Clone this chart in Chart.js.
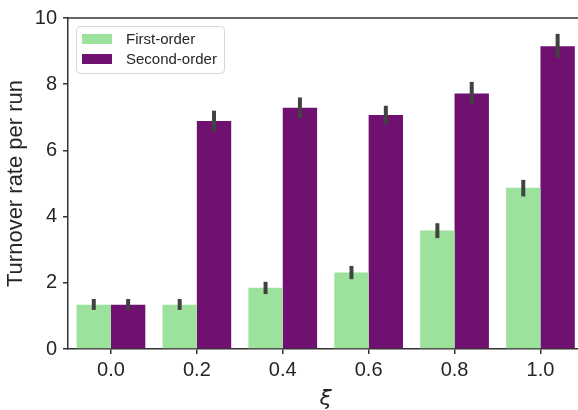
<!DOCTYPE html>
<html>
<head>
<meta charset="utf-8">
<script src="https://cdn.jsdelivr.net/npm/chart.js@4/dist/chart.umd.min.js"></script>
<style>
  html, body { margin: 0; padding: 0; background: #fff; }
  #wrap { width: 578px; height: 410px; overflow: hidden; position: relative; }
  canvas { display: block; }
</style>
</head>
<body>
<div id="wrap"><canvas id="c" width="590" height="410"></canvas></div>
<script>
// Turnover rate per run vs. xi, first- and second-order, with 95% CI bars
const xiLabels = ['0.0', '0.2', '0.4', '0.6', '0.8', '1.0'];

const firstOrder   = [1.34, 1.34, 1.85, 2.31, 3.58, 4.87];
const firstLow     = [1.18, 1.18, 1.66, 2.11, 3.35, 4.61];
const firstHigh    = [1.51, 1.51, 2.03, 2.51, 3.80, 5.11];

const secondOrder  = [1.34, 6.89, 7.29, 7.07, 7.72, 9.15];
const secondLow    = [1.18, 6.57, 6.98, 6.79, 7.39, 8.80];
const secondHigh   = [1.51, 7.20, 7.60, 7.35, 8.07, 9.52];

const yTicks = [0, 2, 4, 6, 8, 10];

const GREEN = '#9ce29c';
const PURPLE = '#701070';
const INK = '#262626';
const SPINE = '#333333';
const ERR = '#424242';
const SANS = "'Liberation Sans', Arial, sans-serif";

const intervals = [
  { low: firstLow, high: firstHigh },
  { low: secondLow, high: secondHigh }
];

// Error bars, top spine and an inset legend drawn over the bars
const overlay = {
  id: 'overlay',
  afterDatasetsDraw(chart) {
    const ctx = chart.ctx;
    const y = chart.scales.y;
    const area = chart.chartArea;

    ctx.save();
    ctx.strokeStyle = ERR;
    ctx.lineWidth = 4;
    ctx.lineCap = 'butt';
    chart.data.datasets.forEach((ds, i) => {
      const meta = chart.getDatasetMeta(i);
      meta.data.forEach((bar, j) => {
        ctx.beginPath();
        ctx.moveTo(bar.x, y.getPixelForValue(intervals[i].low[j]));
        ctx.lineTo(bar.x, y.getPixelForValue(intervals[i].high[j]));
        ctx.stroke();
      });
    });
    ctx.restore();

    // top spine
    ctx.save();
    ctx.strokeStyle = SPINE;
    ctx.lineWidth = 1.5;
    ctx.beginPath();
    ctx.moveTo(area.left - 0.75, area.top);
    ctx.lineTo(area.right, area.top);
    ctx.stroke();
    ctx.restore();

    // legend
    const lx = area.left + 8, ly = area.top + 8;
    const lw = 148, lh = 47;
    ctx.save();
    ctx.fillStyle = 'rgba(255,255,255,0.8)';
    ctx.strokeStyle = '#d6d6d6';
    ctx.lineWidth = 1;
    ctx.beginPath();
    ctx.roundRect(lx + 0.5, ly + 0.5, lw, lh, 4);
    ctx.fill();
    ctx.stroke();
    ctx.font = '15px ' + SANS;
    ctx.textBaseline = 'middle';
    ctx.textAlign = 'left';
    chart.data.datasets.forEach((ds, i) => {
      const rowY = ly + 13 + i * 20;
      ctx.fillStyle = ds.backgroundColor;
      ctx.fillRect(lx + 6, rowY - 5, 30, 10);
      ctx.fillStyle = INK;
      ctx.fillText(ds.label, lx + 50, rowY + 0.5);
    });
    ctx.restore();
  }
};

new Chart(document.getElementById('c'), {
  type: 'bar',
  data: {
    labels: xiLabels,
    datasets: [
      { label: 'First-order', data: firstOrder, backgroundColor: GREEN, borderWidth: 0 },
      { label: 'Second-order', data: secondOrder, backgroundColor: PURPLE, borderWidth: 0 }
    ]
  },
  options: {
    responsive: false,
    animation: false,
    layout: { padding: { left: 0, right: 6.6, top: 14, bottom: 0 } },
    datasets: { bar: { categoryPercentage: 0.8, barPercentage: 1.0 } },
    plugins: { legend: { display: false }, tooltip: { enabled: false } },
    scales: {
      x: {
        offset: true,
        grid: { drawOnChartArea: false, drawTicks: true, tickLength: 5, offset: false,
                color: SPINE, lineWidth: 1.5 },
        border: { color: SPINE, width: 1.5 },
        ticks: { color: INK, font: { size: 20, family: SANS }, padding: 4, maxRotation: 0 },
        title: { display: true, text: 'ξ', color: INK,
                 font: { size: 22, family: "'DejaVu Sans', sans-serif", style: 'italic' },
                 padding: { top: 0, bottom: -2 } },
        afterFit(s) { s.height = 61; }
      },
      y: {
        min: 0, max: 10,
        afterBuildTicks(s) { s.ticks = yTicks.map(v => ({ value: v })); },
        grid: { drawOnChartArea: false, drawTicks: true, tickLength: 5,
                color: SPINE, lineWidth: 1.5 },
        border: { color: SPINE, width: 1.5 },
        ticks: { color: INK, font: { size: 20, family: SANS }, padding: 6 },
        title: { display: true, text: 'Turnover rate per run', color: INK,
                 font: { size: 22, family: SANS }, padding: { top: 3, bottom: 0 } },
        afterFit(s) { s.width = 68; }
      }
    }
  },
  plugins: [overlay]
});
</script>
</body>
</html>
